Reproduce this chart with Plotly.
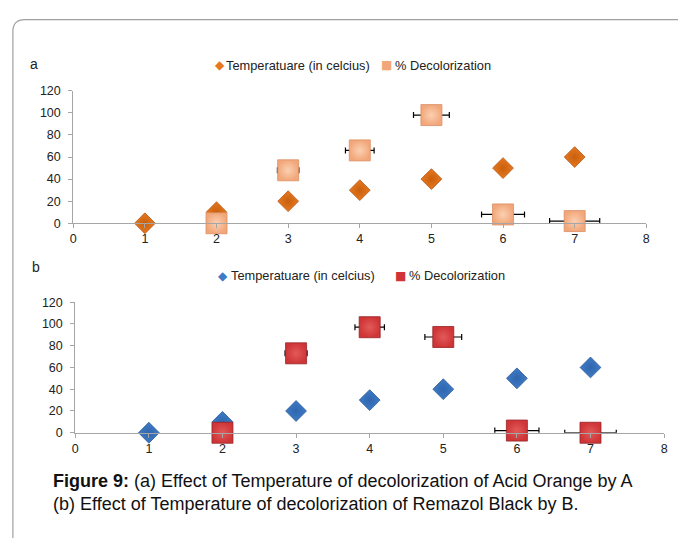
import plotly.graph_objects as go

W, H = 678, 543

# ---- data ----
x_vals = [1, 2, 3, 4, 5, 6, 7]
temp_a = [0, 10, 20, 30, 40, 50, 60]
decol_x = [2, 3, 4, 5, 6, 7]
decol_a = [0, 48, 66, 98, 8, 2]
decol_a_err = [0.1, 0.15, 0.2, 0.25, 0.3, 0.35]
temp_b = [0, 10, 20, 30, 40, 50, 60]
decol_b = [0, 73, 97, 88, 2, 0]
decol_b_err = [0.1, 0.15, 0.2, 0.25, 0.3, 0.35]
x_ticks = [0, 1, 2, 3, 4, 5, 6, 7, 8]
y_ticks = [0, 20, 40, 60, 80, 100, 120]
name_t = "Temperatuare (in celcius)"
name_d = "% Decolorization"

ORANGE, SALMON, BLUE, RED = "#E8781E", "#F2A77A", "#3F7BC6", "#CF3537"


def px(x):
    return x / W


def py(y):
    return 1 - y / H


fig = go.Figure()

# panel a
fig.add_trace(go.Scatter(
    x=x_vals, y=temp_a, mode="markers", name=name_t, showlegend=False,
    marker=dict(symbol="diamond", size=16, color=ORANGE,
                line=dict(color="#B4561A", width=0.8),
                gradient=dict(type="radial", color="#C8600F")),
    xaxis="x", yaxis="y", cliponaxis=False))
fig.add_trace(go.Scatter(
    x=decol_x, y=decol_a, mode="markers", name=name_d, showlegend=False,
    error_x=dict(type="data", array=decol_a_err, color="black", thickness=1.2, width=3),
    marker=dict(symbol="square", size=21, color=SALMON,
                line=dict(color="#D98F63", width=0.8),
                gradient=dict(type="radial", color="#FAD0B2")),
    xaxis="x", yaxis="y", cliponaxis=False))

# panel b
fig.add_trace(go.Scatter(
    x=x_vals, y=temp_b, mode="markers", name=name_t, showlegend=False,
    marker=dict(symbol="diamond", size=16, color=BLUE,
                line=dict(color="#2B5A95", width=0.8),
                gradient=dict(type="radial", color="#2F66AE")),
    xaxis="x2", yaxis="y2", cliponaxis=False))
fig.add_trace(go.Scatter(
    x=decol_x, y=decol_b, mode="markers", name=name_d, showlegend=False,
    error_x=dict(type="data", array=decol_b_err, color="black", thickness=1.2, width=3),
    marker=dict(symbol="square", size=21, color=RED,
                line=dict(color="#952224", width=0.8),
                gradient=dict(type="radial", color="#E25A5A")),
    xaxis="x2", yaxis="y2", cliponaxis=False))

FONT = "Liberation Sans, Arial"

axis_common = dict(showgrid=False, zeroline=False, showline=True, linecolor="#A6A6A6",
                   linewidth=1, ticks="outside", ticklen=4, tickcolor="#A6A6A6",
                   tickfont=dict(family=FONT, size=12.5, color="#222"))


def legend_items(y, items):
    out = []
    for sx, sym, col, tx, label in items:
        out.append(dict(text=sym, x=px(sx), y=py(y),
                        xref="paper", yref="paper", showarrow=False, xanchor="center",
                        yanchor="middle", font=dict(family="DejaVu Sans", size=12, color=col)))
        out.append(dict(text=label, x=px(tx), y=py(y), xref="paper", yref="paper",
                        showarrow=False, xanchor="left", yanchor="middle",
                        font=dict(family=FONT, size=12.8, color="#222")))
    return out


annotations = [
    dict(text="a", x=px(25), y=py(59), xref="paper", yref="paper", showarrow=False,
         xanchor="left", yanchor="middle", font=dict(family=FONT, size=14, color="#222")),
    dict(text="b", x=px(27), y=py(267), xref="paper", yref="paper", showarrow=False,
         xanchor="left", yanchor="middle", font=dict(family=FONT, size=14, color="#222")),
    dict(text="<b>Figure 9:</b> (a) Effect of Temperature of decolorization of Acid Orange by A<br>(b) Effect of Temperature of decolorization of Remazol Black by B.",
         x=px(48), y=py(498), xref="paper", yref="paper", showarrow=False, align="left",
         xanchor="left", yanchor="middle",
         font=dict(family=FONT, size=18, color="#111")),
]
annotations += legend_items(60, [(219, "◆", ORANGE, 223, name_t), (388, "■", SALMON, 394, name_d)])
annotations += legend_items(276, [(222, "◆", BLUE, 228, name_t), (402, "■", RED, 408, name_d)])

fig.update_layout(
    width=W, height=H, margin=dict(l=0, r=0, t=0, b=0),
    paper_bgcolor="white", plot_bgcolor="white",
    xaxis=dict(domain=[px(71), px(650)], range=[0, 8], tickvals=x_ticks, anchor="y", **axis_common),
    yaxis=dict(domain=[py(222), py(86)], range=[0, 120], tickvals=y_ticks, anchor="x",
               ticklabelstandoff=5, **axis_common),
    xaxis2=dict(domain=[px(73), px(668)], range=[0, 8], tickvals=x_ticks, anchor="y2", **axis_common),
    yaxis2=dict(domain=[py(437), py(303)], range=[0, 120], tickvals=y_ticks, anchor="x2",
                ticklabelstandoff=5, **axis_common),
    annotations=annotations,
    shapes=[
        dict(type="path", xref="paper", yref="paper",
             path=f"M {px(10)},{py(545)} L {px(10)},{py(25)} Q {px(10)},{py(13)} {px(22)},{py(13)} L {px(690)},{py(13)}",
             line=dict(color="#A0A0A0", width=1.2)),
    ],
)

fig.write_html("out.html")
